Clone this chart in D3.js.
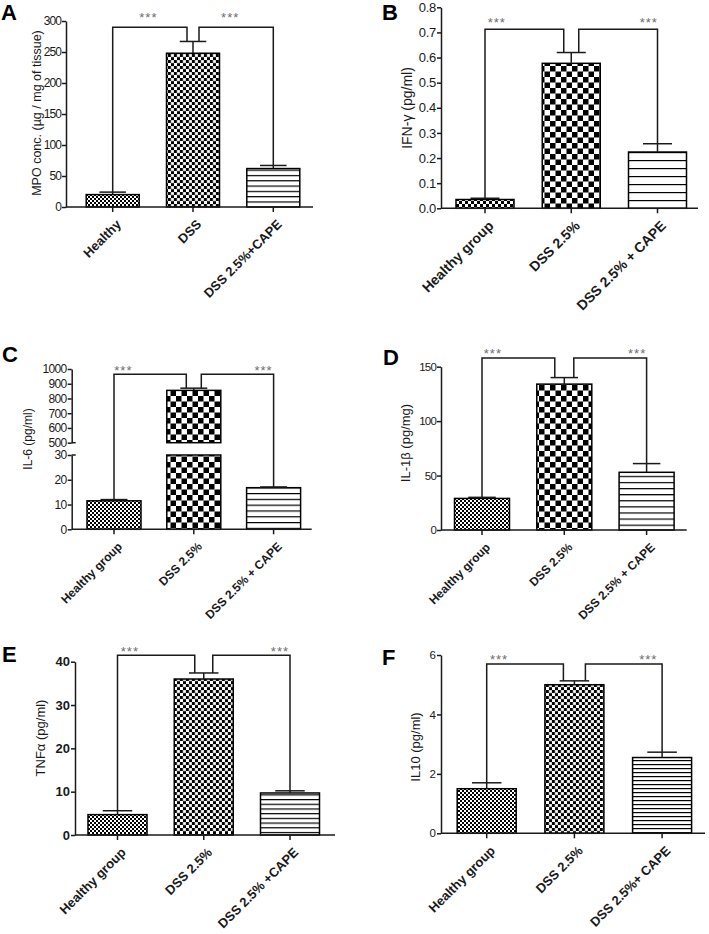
<!DOCTYPE html>
<html>
<head>
<meta charset="utf-8">
<script src="https://cdn.jsdelivr.net/npm/d3@7"></script>
<style>
  body { margin: 0; background: #fff; }
  svg text { font-family: "Liberation Sans", Arial, sans-serif; fill: #1a1a1a; }
</style>
</head>
<body>
<div id="fig"></div>
<script>
// values (mean, SEM)
var groupsA = ["Healthy", "DSS", "DSS 2.5%+CAPE"];
var groupsB = ["Healthy group", "DSS 2.5%", "DSS 2.5% + CAPE"];
var groupsC = ["Healthy group", "DSS 2.5%", "DSS 2.5% + CAPE"];
var groupsD = ["Healthy group", "DSS 2.5%", "DSS 2.5% + CAPE"];
var groupsE = ["Healthy group", "DSS 2.5%", "DSS 2.5% +CAPE"];
var groupsF = ["Healthy group", "DSS 2.5%", "DSS 2.5%+ CAPE"];

var meanA = [20, 248, 62],       semA = [4, 19, 5];
var meanB = [0.035, 0.577, 0.224], semB = [0.005, 0.043, 0.033];
var meanC = [11.5, 855, 16.8],   semC = [0.5, 15, 0.3];
var meanD = [29, 134, 53],       semD = [1, 6, 8];
var meanE = [4.7, 36, 9.7],      semE = [0.9, 1.4, 0.5];
var meanF = [1.5, 5.0, 2.55],    semF = [0.2, 0.13, 0.18];

var ticksA = [0, 50, 100, 150, 200, 250, 300];
var ticksB = [0, 0.1, 0.2, 0.3, 0.4, 0.5, 0.6, 0.7, 0.8];
var ticksCLow = [0, 10, 20, 30];
var ticksCHigh = [500, 600, 700, 800, 900, 1000];
var ticksD = [0, 50, 100, 150];
var ticksE = [0, 10, 20, 30, 40];
var ticksF = [0, 2, 4, 6];

var sigLevel = [290, 0.713, 965, 158, 41.5, 5.7];
var sigText = ["***", "***"];

var titles = ["MPO conc. (\u00b5g / mg of tissue)", "IFN-\u03b3 (pg/ml)", "IL-6 (pg/ml)",
              "IL-1\u03b2 (pg/mg)", "TNF\u03b1 (pg/ml)", "IL10 (pg/ml)"];
var letters = ["A", "B", "C", "D", "E", "F"];

var panels = [
  {letter: letters[0], lx: 1, ly: 20, ox: 66, xEnd: 313, y0: 207, y1: 21, c0: 112.7, step: 80.3, bw: 53,
   groups: groupsA, mean: meanA, sem: semA, ticks: ticksA, fmt: "d", tickFont: 12, tickSp: -0.9,
   title: titles[0], tx: 37, ty: 113, titleFont: 12.5, xFont: 13, leg: 6, starF: [0.48, 0.42], starUp: 12,
   pat: ["fine4", "dotck", "hl0"], hl: 5.3},
  {letter: letters[1], lx: 382, ly: 20, ox: 441, xEnd: 698, y0: 208.3, y1: 7.3, c0: 485, step: 86.25, bw: 58,
   groups: groupsB, mean: meanB, sem: semB, ticks: ticksB, fmt: ".1f", tickFont: 13, tickSp: -0.3,
   title: titles[1], tx: 407, ty: 108, titleFont: 14, xFont: 14, leg: 7.5, starF: [0.15, 0.89], starUp: 9.5,
   pat: ["fine6", "bigck", "hl1"], hl: 8},
  {letter: letters[2], lx: 2, ly: 362, ox: 71.7, xEnd: 311.7, c0: 114, step: 79.8, bw: 54,
   broken: {low: [529.3, 455], high: [442.7, 369], lowTicks: ticksCLow, highTicks: ticksCHigh},
   groups: groupsC, mean: meanC, sem: semC, fmt: "d", tickFont: 12, tickSp: -0.6,
   title: titles[2], tx: 28, ty: 439, titleFont: 12, xFont: 12, leg: 7.5, starF: [0.13, 0.86], starUp: 6,
   pat: ["fine4", "bigck", "hl2"], hl: 5.8},
  {letter: letters[3], lx: 383, ly: 365, ox: 441, xEnd: 686.7, y0: 530, y1: 366.7, c0: 482, step: 82.3, bw: 55,
   groups: groupsD, mean: meanD, sem: semD, ticks: ticksD, fmt: "d", tickFont: 11.5, tickSp: -0.8,
   title: titles[3], tx: 405, ty: 443, titleFont: 13, xFont: 12, leg: 9.5, starF: [0.15, 0.87], starUp: 7.3,
   pat: ["fine4", "bigck", "hl3"], hl: 6.1},
  {letter: letters[4], lx: 2, ly: 662, ox: 75, xEnd: 335, y0: 835, y1: 661.7, c0: 117.5, step: 86.25, bw: 59,
   groups: groupsE, mean: meanE, sem: semE, ticks: ticksE, fmt: "d", tickFont: 13, tickBold: true,
   title: titles[4], tx: 40, ty: 738, titleFont: 13, xFont: 13, leg: 9, starF: [0.16, 0.87], starUp: 6.7,
   pat: ["fine4", "dotck", "hl4"], hl: 4.7},
  {letter: letters[5], lx: 382, ly: 665, ox: 441, xEnd: 705, y0: 833.3, y1: 655, c0: 486.7, step: 87.7, bw: 59,
   groups: groupsF, mean: meanF, sem: semF, ticks: ticksF, fmt: "d", tickFont: 11.5,
   title: titles[5], tx: 415, ty: 747, titleFont: 13, xFont: 13, leg: 11, starF: [0.16, 0.82], starUp: 7.3,
   pat: ["fine4", "dotck", "hl5"], hl: 4}
];

var W = 709, H = 934;
var ink = "#1a1a1a";

var svg = d3.select("#fig").append("svg")
  .attr("width", W).attr("height", H);

// fill patterns
var defs = svg.append("defs");
function checker(id, cell, grey) {
  var p = defs.append("pattern").attr("id", id)
    .attr("patternUnits", "userSpaceOnUse")
    .attr("width", cell * 2).attr("height", cell * 2);
  p.append("rect").attr("width", cell * 2).attr("height", cell * 2).attr("fill", "#fff");
  p.append("rect").attr("x", 0).attr("y", 0).attr("width", cell).attr("height", cell).attr("fill", "#000");
  p.append("rect").attr("x", cell).attr("y", cell).attr("width", cell).attr("height", cell).attr("fill", "#000");
  if (grey) {
    p.append("rect").attr("x", cell).attr("y", 0).attr("width", cell).attr("height", cell)
      .attr("fill", "none").attr("stroke", "#999").attr("stroke-width", 0.6);
  }
}
checker("fine4", 2);
checker("fine6", 3);
checker("bigck", 5.5);
checker("dotck", 3, true);
panels.forEach(function(p, i) {
  var pat = defs.append("pattern").attr("id", "hl" + i)
    .attr("patternUnits", "userSpaceOnUse")
    .attr("width", 10).attr("height", p.hl);
  pat.append("rect").attr("width", 10).attr("height", p.hl).attr("fill", "#fff");
  pat.append("rect").attr("width", 10).attr("height", 1.2).attr("fill", "#000");
});

panels.forEach(function(p) {
  var g = svg.append("g");

  // y scales (panel C has a broken axis)
  var yf, yBase;
  if (p.broken) {
    var yLow = d3.scaleLinear().domain([0, 30]).range(p.broken.low);
    var yHigh = d3.scaleLinear().domain([500, 1000]).range(p.broken.high);
    yf = function(v) { return v <= 30 ? yLow(v) : yHigh(v); };
    yBase = yLow(0);
    [[yLow, p.broken.lowTicks], [yHigh, p.broken.highTicks]].forEach(function(s) {
      var ax = g.append("g").attr("transform", "translate(" + p.ox + ",0)")
        .call(d3.axisLeft(s[0]).tickValues(s[1]).tickSize(4).tickSizeOuter(0).tickPadding(1)
          .tickFormat(d3.format(p.fmt)));
      styleYAxis(ax, p);
    });
    // break marks
    g.append("line").attr("x1", p.ox).attr("x2", p.ox + 4)
      .attr("y1", yLow(30)).attr("y2", yLow(30)).attr("stroke", ink).attr("stroke-width", 1.5);
    g.append("line").attr("x1", p.ox).attr("x2", p.ox + 4)
      .attr("y1", yHigh(500)).attr("y2", yHigh(500)).attr("stroke", ink).attr("stroke-width", 1.5);
  } else {
    var y = d3.scaleLinear().domain([0, d3.max(p.ticks)]).range([p.y0, p.y1]);
    yf = y;
    yBase = y(0);
    var ax = g.append("g").attr("transform", "translate(" + p.ox + ",0)")
      .call(d3.axisLeft(y).tickValues(p.ticks).tickSize(4).tickSizeOuter(0).tickPadding(1)
        .tickFormat(d3.format(p.fmt)));
    styleYAxis(ax, p);
  }

  // x band scale
  var x = d3.scaleBand().domain(p.groups)
    .range([p.c0 - p.step / 2, p.c0 + p.step * 2.5])
    .paddingInner(1 - p.bw / p.step).paddingOuter((1 - p.bw / p.step) / 2);
  var cx = function(d) { return x(d) + x.bandwidth() / 2; };

  // bars
  p.groups.forEach(function(d, i) {
    var v = p.mean[i];
    var segs = (p.broken && v > 30) ? [[0, 30], [500, v]] : [[0, v]];
    segs.forEach(function(s) {
      g.append("rect")
        .attr("x", x(d)).attr("width", x.bandwidth())
        .attr("y", yf(s[1])).attr("height", yf(s[0]) - yf(s[1]))
        .attr("fill", "url(#" + p.pat[i] + ")")
        .attr("stroke", "#000").attr("stroke-width", 1.5);
    });
    // error bar (upper only)
    var top = yf(v + p.sem[i]);
    g.append("line").attr("x1", cx(d)).attr("x2", cx(d))
      .attr("y1", yf(v)).attr("y2", top).attr("stroke", ink).attr("stroke-width", 1.5);
    g.append("line").attr("x1", cx(d) - x.bandwidth() * 0.25).attr("x2", cx(d) + x.bandwidth() * 0.25)
      .attr("y1", top).attr("y2", top).attr("stroke", ink).attr("stroke-width", 1.5);
  });

  // x axis
  g.append("line").attr("x1", p.ox).attr("x2", p.xEnd)
    .attr("y1", yBase).attr("y2", yBase).attr("stroke", ink).attr("stroke-width", 1.5);
  var xa = g.append("g").attr("transform", "translate(0," + yBase + ")")
    .call(d3.axisBottom(x).tickSize(5).tickSizeOuter(0));
  xa.select(".domain").remove();
  xa.selectAll(".tick line").attr("stroke", ink).attr("stroke-width", 1.5);
  xa.selectAll(".tick text")
    .attr("x", 0).attr("y", 0).attr("dy", "0.35em")
    .attr("transform", "translate(6,15) rotate(-45)")
    .style("text-anchor", "end")
    .style("font-size", p.xFont + "px")
    .style("font-weight", "bold")
    .attr("fill", ink);

  // significance brackets
  var yb = yf(sigLevel[letters.indexOf(p.letter)]);
  var tops = p.groups.map(function(d, i) { return yf(p.mean[i] + p.sem[i]); });
  var c = p.groups.map(cx);
  var br = [
    [c[0], tops[0], c[1] - p.leg, tops[1]],
    [c[1] + p.leg, tops[1], c[2], tops[2]]
  ];
  br.forEach(function(b, k) {
    g.append("path")
      .attr("d", "M" + b[0] + "," + b[1] + "V" + yb + "H" + b[2] + "V" + b[3])
      .attr("fill", "none").attr("stroke", ink).attr("stroke-width", 1.5);
    g.append("text")
      .attr("x", b[0] + (b[2] - b[0]) * p.starF[k])
      .attr("y", yb - p.starUp + 7)
      .attr("text-anchor", "middle")
      .style("font-size", "13px")
      .style("letter-spacing", "1px")
      .style("fill", "#6e6e6e")
      .text(sigText[k]);
  });

  // y title
  g.append("text")
    .attr("transform", "translate(" + p.tx + "," + p.ty + ") rotate(-90)")
    .attr("text-anchor", "middle")
    .attr("dominant-baseline", "central")
    .style("font-size", p.titleFont + "px")
    .text(p.title);

  // panel letter
  g.append("text")
    .attr("x", p.lx).attr("y", p.ly)
    .style("font-size", "22px").style("font-weight", "bold")
    .style("fill", "#000")
    .text(p.letter);
});

function styleYAxis(ax, p) {
  ax.select(".domain").attr("stroke", ink).attr("stroke-width", 1.5);
  ax.selectAll(".tick line").attr("stroke", ink).attr("stroke-width", 1.5);
  ax.selectAll(".tick text")
    .style("font-size", p.tickFont + "px")
    .style("letter-spacing", (p.tickSp || 0) + "px")
    .style("font-weight", p.tickBold ? "bold" : "normal")
    .attr("fill", ink);
}
</script>
</body>
</html>
